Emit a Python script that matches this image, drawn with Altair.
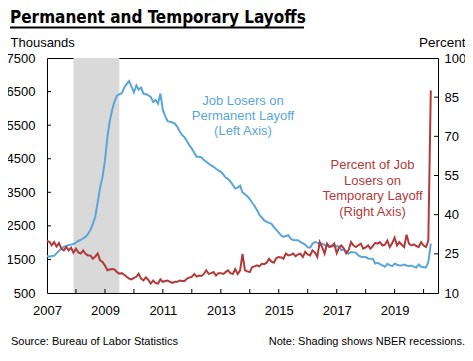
import altair as alt
import pandas as pd

# ---- data (monthly, Jan 2007 - Apr 2020) ----
perm_2007_2020 = [
    1600, 1580, 1600, 1610, 1680, 1760, 1820, 1880, 1900, 1920, 1940, 1960,
    2000, 2050, 2080, 2130, 2170, 2260, 2380, 2560, 2780, 3200, 3650, 3950,
    4450, 5150, 5600, 5950, 6200, 6380, 6420, 6450, 6620, 6720, 6810, 6650,
    6480, 6680, 6560, 6620, 6440, 6420, 6390, 6340, 6190, 6250, 6140, 6440,
    5950, 5760, 5620, 5600, 5580, 5545, 5450, 5320, 5200, 5140, 5020, 4900,
    4800, 4680, 4560, 4560, 4540, 4460, 4410, 4350, 4300, 4260, 4200, 4150,
    4110, 4030, 3940, 3900, 3820, 3720, 3610, 3640, 3700, 3500, 3440, 3380,
    3300, 3180, 3100, 2970, 2830, 2750, 2660, 2620, 2590, 2560, 2460, 2380,
    2300, 2210, 2170, 2200, 2220, 2120, 2080, 2070, 2070, 2020, 1980, 1940,
    1860, 1850, 1970, 2020, 2000, 1950, 1970, 1930, 1910, 1890, 1920, 1890,
    1900, 1880, 1770, 1800, 1740, 1670, 1720, 1710, 1700, 1620, 1580, 1570,
    1570, 1530, 1520, 1520, 1380, 1400, 1360, 1320, 1280, 1370, 1330, 1300,
    1370, 1340, 1320, 1320, 1350, 1320, 1300, 1320, 1280, 1255, 1350, 1280,
    1270, 1260, 1420, 1970,
]
temp_pct = [
    29.9, 29.6, 28.3, 29.5, 27.8, 29.1, 27.0, 26.3, 27.6, 26.3, 27.3, 25.4,
    27.0, 25.5, 25.1, 26.3, 25.0, 24.4, 24.4, 23.1, 24.0, 25.1, 22.5, 21.9,
    20.5, 18.7, 19.0, 19.2, 19.0, 18.0, 17.4, 17.6, 17.0, 16.2, 15.5, 15.2,
    15.8, 16.2, 17.4, 15.5, 14.8, 16.0, 15.0, 13.6, 14.8, 13.8, 13.6, 15.2,
    14.3, 14.6, 14.8, 14.3, 13.9, 14.3, 14.3, 14.8, 14.6, 14.6, 15.5, 15.9,
    16.2, 17.3, 16.3, 16.7, 16.5, 17.3, 18.7, 17.3, 17.6, 18.0, 16.7, 17.6,
    17.6, 17.3, 18.0, 18.7, 17.6, 17.3, 19.2, 17.3, 18.7, 25.0, 18.7, 18.3,
    18.0, 19.9, 20.2, 20.6, 20.2, 21.2, 21.0, 21.6, 23.1, 22.0, 21.6, 23.4,
    23.8, 23.6, 23.1, 25.1, 24.4, 24.6, 25.1, 24.1, 24.8, 25.1, 23.8, 25.8,
    24.8, 24.4, 26.3, 25.5, 23.8, 29.5, 27.6, 25.1, 28.9, 27.6, 27.9, 28.9,
    25.3, 27.5, 28.2, 27.0, 25.1, 26.5, 29.5, 28.2, 27.6, 28.3, 28.9, 27.0,
    27.5, 28.2, 27.0, 28.0, 29.2, 28.9, 29.5, 28.2, 28.5, 30.1, 27.6, 29.0,
    31.2, 28.2, 29.5, 28.5, 27.6, 32.3, 28.9, 28.2, 28.6, 28.0, 27.6, 29.5,
    28.2, 27.6, 30.1, 87.6,
]
recession_start = ["2007-12-01"]
recession_end = ["2009-07-01"]
left_ticks = [500, 1500, 2500, 3500, 4500, 5500, 6500, 7500]
right_ticks = [10, 25, 40, 55, 70, 85, 100]
label_years = [2007, 2009, 2011, 2013, 2015, 2017, 2019]
tick_years = list(range(2008, 2021))

BLUE = "#5aa6da"
RED = "#b23a3a"
FONT = "Liberation Sans"
W, H = 391, 235

dates = pd.date_range("2007-01-01", periods=len(perm_2007_2020), freq="MS")
df = pd.DataFrame({"date": dates, "perm": perm_2007_2020, "temp": temp_pct})
rec = pd.DataFrame({"start": pd.to_datetime(recession_start), "end": pd.to_datetime(recession_end)})
lt = pd.DataFrame({"v": left_ticks[1:-1]})
rt = pd.DataFrame({"v": right_ticks[1:-1]})
xt = pd.DataFrame({"d": pd.to_datetime([f"{y}-01-01" for y in tick_years])})

xscale = alt.Scale(domain=[alt.DateTime(year=2007, month=1, date=1),
                           alt.DateTime(year=2020, month=7, date=1)])
lscale = alt.Scale(domain=[500, 7500], nice=False, zero=False)
rscale = alt.Scale(domain=[10, 100], nice=False, zero=False)

xaxis = alt.Axis(values=[alt.DateTime(year=y, month=1, date=1) for y in label_years],
                 format="%Y", ticks=False, domain=False, grid=False, labelPadding=11,
                 labelFontSize=13, labelFlush=False, labelOverlap=False, title=None)
laxis = alt.Axis(values=left_ticks, format="d", ticks=False, domain=False,
                 grid=False, labelPadding=12, labelFontSize=13,
                 labelOverlap=False, labelBound=False, title="Thousands", titleAngle=0,
                 titleX=-37, titleY=-16, titleAlign="left",
                 titleBaseline="middle", titleFontSize=13,
                 titleFontWeight="normal")
raxis = alt.Axis(orient="right", values=right_ticks, format="d", ticks=False,
                 domain=False, grid=False, labelPadding=6, labelFontSize=13,
                 labelOverlap=False, labelBound=False, title="Percent", titleAngle=0,
                 titleX=27, titleY=-16, titleAlign="right",
                 titleBaseline="middle", titleFontSize=13.5,
                 titleFontWeight="normal")

rect = alt.Chart(rec).mark_rect(color="#d9d9d9").encode(
    x=alt.X("start:T", scale=xscale, axis=xaxis), x2="end:T")

blue = alt.Chart(df).mark_line(color=BLUE, strokeWidth=2).encode(
    x=alt.X("date:T", scale=xscale, axis=xaxis),
    y=alt.Y("perm:Q", scale=lscale, axis=laxis))

lt_rules = alt.Chart(lt).mark_rule(color="black", strokeWidth=1).encode(
    y=alt.Y("v:Q", scale=lscale, axis=laxis), x=alt.value(0), x2=alt.value(4))
xt_rules = alt.Chart(xt).mark_rule(color="black", strokeWidth=1).encode(
    x=alt.X("d:T", scale=xscale, axis=xaxis), y=alt.value(H - 4), y2=alt.value(H))

blue_txt = alt.Chart(df.head(1)).mark_text(
    text=["Job Losers on", "Permanent Layoff", "(Left Axis)"], color=BLUE,
    font=FONT, fontSize=13, lineHeight=15.3, align="center", baseline="middle"
).encode(x=alt.value(196), y=alt.value(42.7))

red_txt = alt.Chart(df.head(1)).mark_text(
    text=["Percent of Job", "Losers on", "Temporary Layoff", "(Right Axis)"], color=RED,
    font=FONT, fontSize=13, lineHeight=15.5, align="center", baseline="middle"
).encode(x=alt.value(325.5), y=alt.value(107))

title_txt = alt.Chart(df.head(1)).mark_text(
    text="Permanent and Temporary Layoffs",
    font="DejaVu Sans Condensed, DejaVu Sans, Liberation Sans",
    fontWeight="bold", fontSize=17, color="black", align="left", baseline="alphabetic"
).encode(x=alt.value(-37), y=alt.value(-35.5))
underline = alt.Chart(df.head(1)).mark_rule(color="black", strokeWidth=2).encode(
    x=alt.value(-37), x2=alt.value(257), y=alt.value(-30.5))

src_txt = alt.Chart(df.head(1)).mark_text(
    text="Source: Bureau of Labor Statistics", font=FONT, fontSize=11,
    color="black", align="left", baseline="middle"
).encode(x=alt.value(-36), y=alt.value(284.3))
note_txt = alt.Chart(df.head(1)).mark_text(
    text="Note: Shading shows NBER recessions.", font=FONT, fontSize=11,
    color="black", align="right", baseline="middle"
).encode(x=alt.value(418), y=alt.value(284.3))

red = alt.Chart(df).mark_line(color=RED, strokeWidth=2).encode(
    x=alt.X("date:T", scale=xscale, axis=xaxis),
    y=alt.Y("temp:Q", scale=rscale, axis=raxis))
rt_rules = alt.Chart(rt).mark_rule(color="black", strokeWidth=1).encode(
    y=alt.Y("v:Q", scale=rscale, axis=raxis), x=alt.value(W - 4), x2=alt.value(W))

left = alt.layer(rect, blue, lt_rules, xt_rules, blue_txt, red_txt,
                 title_txt, underline, src_txt, note_txt)
right = alt.layer(red, rt_rules)

chart = alt.layer(left, right).resolve_scale(y="independent").properties(
    width=W, height=H,
    padding={"left": 39, "top": 50, "right": 27, "bottom": 55},
    autosize=alt.AutoSizeParams(type="none"),
).configure_view(stroke="black", strokeWidth=1).configure_axis(
    labelFont=FONT, titleFont=FONT, labelColor="black", titleColor="black"
).configure_text(font=FONT)

chart.save("out.html", embed_options={"renderer": "svg", "actions": False})
